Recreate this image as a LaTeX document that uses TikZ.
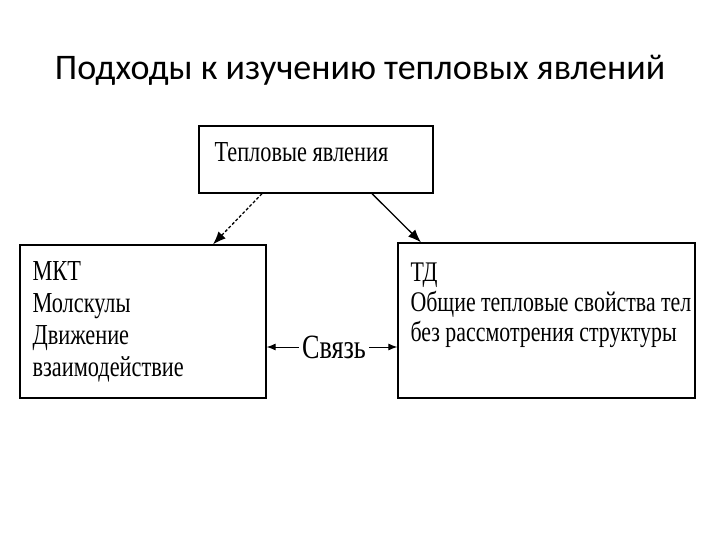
\documentclass[tikz,border=0pt]{standalone}
\usepackage{fontspec}
\setmainfont{Liberation Serif}
\newfontfamily\titlefont{Carlito}
\newfontfamily\boxfont[FakeStretch=0.77]{Liberation Serif}
\usetikzlibrary{arrows.meta,positioning}

\begin{document}
\begin{tikzpicture}[
  x=1pt, y=-1pt,
  box/.style={draw, line width=1.3pt, inner sep=0pt},
  txt/.style={anchor=north west, inner sep=0pt, align=left,
              font=\boxfont\fontsize{29}{32}\selectfont},
  arr/.style={-{Latex[length=13pt,width=10pt]}, line width=1.3pt},
  sarr/.style={-{Latex[length=9pt,width=7pt]}, line width=1pt},
]
\useasboundingbox[fill=white] (0,0) rectangle (720,540);

%% ---- title ----
\node[font=\titlefont\fontsize{36}{40}\selectfont, anchor=base] (title) at (360,80)
  {Подходы к изучению тепловых явлений};

%% ---- boxes ----
\node[box, minimum width=234pt, minimum height=67pt]  (heat) at (316,159.5) {};
\node[box, minimum width=246pt, minimum height=153pt] (mkt)  at (143,321.5) {};
\node[box, minimum width=297pt, minimum height=155pt] (td)   at (546.5,320.5) {};

%% ---- box texts ----
\node[txt] (heattxt) at ([xshift=16pt,yshift=-17pt]heat.north west) {Тепловые явления};
\node[txt] (mkttxt) at ([xshift=13pt,yshift=-17pt]mkt.north west)
  {МКТ\\Молскулы\\Движение\\взаимодействие};
\node[txt, font=\boxfont\fontsize{28.4}{30}\selectfont] (tdtxt)
  at ([xshift=13pt,yshift=-20pt]td.north west)
  {ТД\\Общие тепловые свойства тел\\без рассмотрения структуры};

%% ---- link ----
\node[font=\boxfont\fontsize{34}{36}\selectfont, inner sep=3pt] (link) at (334,347) {Связь};

%% ---- arrows ----
\coordinate (hl) at ([xshift=-54pt]heat.south);
\coordinate (hr) at ([xshift=56pt]heat.south);
\coordinate (ml) at ([xshift=70pt]mkt.north);
\coordinate (tl) at ([xshift=-125.5pt]td.north);
\draw[arr, dash pattern=on 3pt off 2pt] (hl) -- (ml);
\draw[arr] (hr) -- (tl);
\draw[sarr] (link.west) -- (link.west -| mkt.east);
\draw[sarr] (link.east) -- (link.east -| td.west);
\end{tikzpicture}
\end{document}
